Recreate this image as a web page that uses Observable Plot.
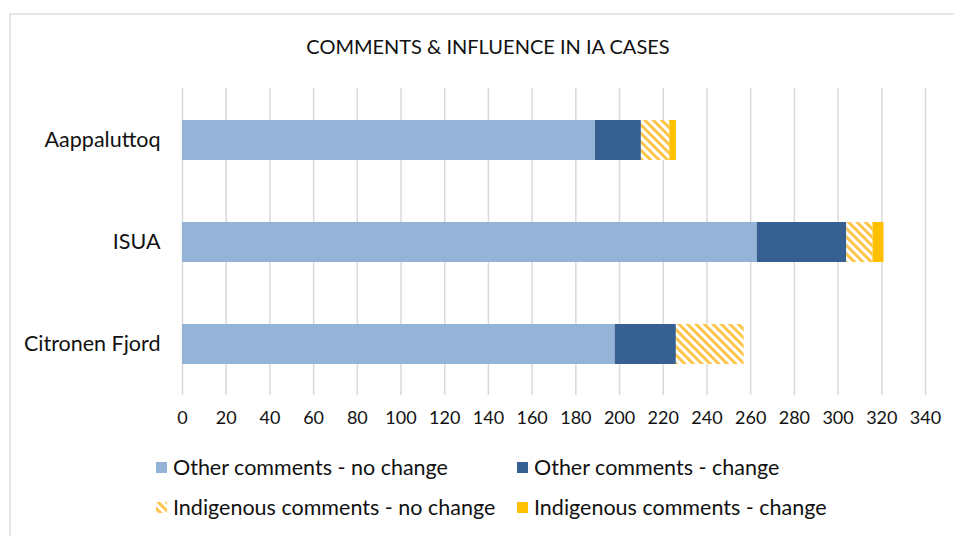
<!DOCTYPE html>
<html>
<head>
<meta charset="utf-8">
<script src="https://cdn.jsdelivr.net/npm/d3@7"></script>
<script src="https://cdn.jsdelivr.net/npm/@observablehq/plot@0.6"></script>
<style>
  html, body { margin: 0; padding: 0; background: #fff; }
  #wrap { position: relative; width: 954px; height: 536px; overflow: hidden; font-family: Lato, "Open Sans", sans-serif; color: #111; }
  #frame { position: absolute; left: 9px; top: 13px; width: 1000px; height: 600px; border-top: 2px solid #e6e6e6; border-left: 2px solid #e6e6e6; }
  #title { position: absolute; left: 0; width: 976px; top: 34px; text-align: center; font-size: 20px; line-height: 24px; }
  #chart { position: absolute; left: 0; top: 80px; }
  .leg { position: absolute; font-size: 21.5px; line-height: 24px; display: flex; align-items: center; white-space: nowrap; }
  .sw { width: 11px; height: 11px; margin-right: 6px; }
  .sw svg { display: block; }
</style>
</head>
<body>
<svg width="0" height="0" style="position:absolute">
  <defs>
    <pattern id="hatch" patternUnits="userSpaceOnUse" width="6" height="6" patternTransform="rotate(-45)">
      <rect x="0" y="0" width="6" height="6" fill="#ffffff"></rect>
      <rect x="0" y="0" width="3" height="6" fill="#ffc44a"></rect>
    </pattern>
  </defs>
</svg>
<div id="wrap">
  <div id="frame"></div>
  <div id="title">COMMENTS &amp; INFLUENCE IN IA CASES</div>
  <div id="chart"></div>
  <div id="legend"></div>
</div>
<script>
const cases = ["Aappaluttoq", "ISUA", "Citronen Fjord"];
const series = ["Other comments - no change", "Other comments - change", "Indigenous comments - no change", "Indigenous comments - change"];
const otherNoChange = [189, 263, 198];
const otherChange = [21, 41, 28];
const indigenousNoChange = [13, 12, 31];
const indigenousChange = [3, 5, 0];
const xTicks = [0, 20, 40, 60, 80, 100, 120, 140, 160, 180, 200, 220, 240, 260, 280, 300, 320, 340];
const colors = ["#95b3d7", "#366092", "url(#hatch)", "#ffc000"];

const seriesValues = [otherNoChange, otherChange, indigenousNoChange, indigenousChange];
const data = [];
series.forEach((s, si) => cases.forEach((c, ci) => data.push({case: c, series: s, value: seriesValues[si][ci]})));

const chart = Plot.plot({
  width: 954,
  height: 355,
  marginLeft: 182,
  marginRight: 29,
  marginTop: 8,
  marginBottom: 40,
  style: {fontFamily: "Lato, 'Open Sans', sans-serif", color: "#111", background: "transparent"},
  x: {domain: [0, 340], ticks: xTicks, label: null},
  y: {domain: cases, padding: 0, label: null},
  color: {type: "ordinal", domain: series, range: colors},
  marks: [
    Plot.gridX(xTicks, {stroke: "#d9d9d9", strokeOpacity: 1, strokeWidth: 1.5}),
    Plot.barX(data, Plot.stackX({x: "value", y: "case", fill: "series", order: series, insetTop: 31, insetBottom: 31})),
    Plot.axisX(xTicks, {tickSize: 0, tickPadding: 16, fontSize: 18, fill: "#111"}),
    Plot.axisY({tickSize: 0, tickPadding: 22, fontSize: 21.5, fill: "#111"})
  ]
});
document.getElementById("chart").appendChild(chart);

const legend = document.getElementById("legend");
const pos = [[156, 455], [517, 455], [156, 495], [517, 495]];
series.forEach((s, i) => {
  const d = document.createElement("div");
  d.className = "leg";
  d.style.left = pos[i][0] + "px";
  d.style.top = pos[i][1] + "px";
  const sw = document.createElement("div");
  sw.className = "sw";
  if (i === 2) {
    sw.innerHTML = '<svg width="11" height="11"><rect width="11" height="11" fill="url(#hatch)"></rect></svg>';
  } else {
    sw.style.background = colors[i];
  }
  d.appendChild(sw);
  const t = document.createElement("span");
  t.textContent = s;
  d.appendChild(t);
  legend.appendChild(d);
});
</script>
</body>
</html>
